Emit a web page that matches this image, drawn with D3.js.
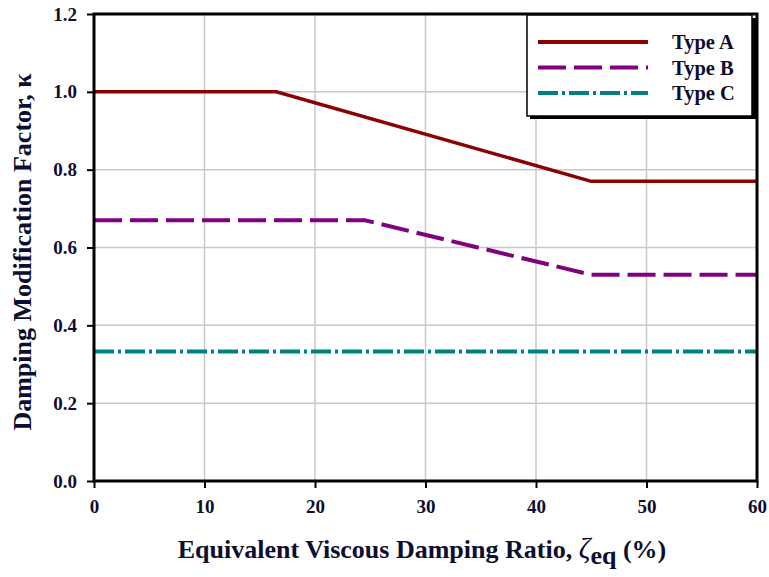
<!DOCTYPE html>
<html><head><meta charset="utf-8">
<script src="https://cdn.jsdelivr.net/npm/d3@7"></script>
<style>body{margin:0;background:#fff}svg{display:block}</style>
</head><body>
<svg id="c" width="769" height="577"></svg>
<script>
const xTicks = [0,10,20,30,40,50,60];
const yTicks = [0.0,0.2,0.4,0.6,0.8,1.0,1.2];
const seriesNames = ["Type A","Type B","Type C"];
const typeAx = [0,16.5,45,60];
const typeAy = [1.0,1.0,0.77,0.77];
const typeBx = [0,24.5,45,60];
const typeBy = [0.67,0.67,0.53,0.53];
const typeCx = [0,60];
const typeCy = [0.333,0.333];

const colors = ["#8b0000","#800080","#008080"];
const dashes = [null,"28,8","20,4,3,4"];
const widths = [3.5,4,4];

const svg = d3.select("#c");
const L=94,R=757,T=14,B=481;
const x = d3.scaleLinear().domain([0,60]).range([L,R]);
const y = d3.scaleLinear().domain([0,1.2]).range([B,T]);
const txtCol = "#0d0d30";
const font = "'Liberation Serif','Times New Roman',serif";

// grid
svg.append("g").selectAll("line").data(xTicks.slice(1,-1)).join("line")
  .attr("x1",d=>x(d)).attr("x2",d=>x(d)).attr("y1",T).attr("y2",B)
  .attr("stroke","#c8c8c8").attr("stroke-width",1.5);
svg.append("g").selectAll("line").data(yTicks.slice(1,-1)).join("line")
  .attr("y1",d=>y(d)).attr("y2",d=>y(d)).attr("x1",L).attr("x2",R)
  .attr("stroke","#c8c8c8").attr("stroke-width",1.5);

// series
const data = [
  typeAx.map((v,i)=>[v,typeAy[i]]),
  typeBx.map((v,i)=>[v,typeBy[i]]),
  typeCx.map((v,i)=>[v,typeCy[i]])
];
const line = d3.line().x(d=>x(d[0])).y(d=>y(d[1]));
data.forEach((d,i)=>{
  svg.append("path").attr("d",line(d)).attr("fill","none")
    .attr("stroke",colors[i]).attr("stroke-width",widths[i])
    .attr("stroke-dasharray",dashes[i]);
});

// frame
svg.append("rect").attr("x",L).attr("y",T).attr("width",R-L).attr("height",B-T)
  .attr("fill","none").attr("stroke","#000").attr("stroke-width",3);

// axes
const xAxis = svg.append("g").attr("transform",`translate(0,${B})`)
  .call(d3.axisBottom(x).tickValues(xTicks).tickSize(7).tickPadding(12).tickFormat(d3.format("d")));
const yAxis = svg.append("g").attr("transform",`translate(${L},0)`)
  .call(d3.axisLeft(y).tickValues(yTicks).tickSize(7).tickPadding(10).tickFormat(d3.format(".1f")));
[xAxis,yAxis].forEach(a=>{
  a.select(".domain").remove();
  a.selectAll(".tick line").attr("stroke","#000").attr("stroke-width",2);
  a.selectAll("text").attr("font-family",font).attr("font-weight","bold")
    .attr("font-size",19).attr("fill",txtCol);
});

// legend
const lg = svg.append("g");
lg.append("rect").attr("x",530).attr("y",18).attr("width",226).attr("height",101)
  .attr("fill","#000");
lg.append("rect").attr("x",527).attr("y",15).attr("width",225).attr("height",101)
  .attr("fill","#fff").attr("stroke","#000").attr("stroke-width",1.5);
seriesNames.forEach((n,i)=>{
  const yy = 42 + i*25.5;
  lg.append("line").attr("x1",538).attr("x2",648).attr("y1",yy).attr("y2",yy)
    .attr("stroke",colors[i]).attr("stroke-width",4).attr("stroke-dasharray",dashes[i]);
  lg.append("text").attr("x",672).attr("y",yy+7).text(n)
    .attr("font-family",font).attr("font-weight","bold").attr("font-size",20.5).attr("fill",txtCol);
});

// axis titles
const xt = svg.append("text").attr("x",422).attr("y",558).attr("text-anchor","middle")
  .attr("font-family",font).attr("font-weight","bold").attr("font-size",26).attr("fill",txtCol);
xt.append("tspan").text("Equivalent Viscous Damping Ratio, ");
xt.append("tspan").text("ζ").attr("font-style","italic").attr("font-weight","normal").attr("font-size",29);
xt.append("tspan").text("eq").attr("dy",6);
xt.append("tspan").text(" (%)").attr("dy",-6);

svg.append("text").attr("transform","translate(31,252) rotate(-90)").attr("text-anchor","middle")
  .attr("font-family",font).attr("font-weight","bold").attr("font-size",26).attr("fill",txtCol)
  .text("Damping Modification Factor, κ");
</script>
</body></html>
